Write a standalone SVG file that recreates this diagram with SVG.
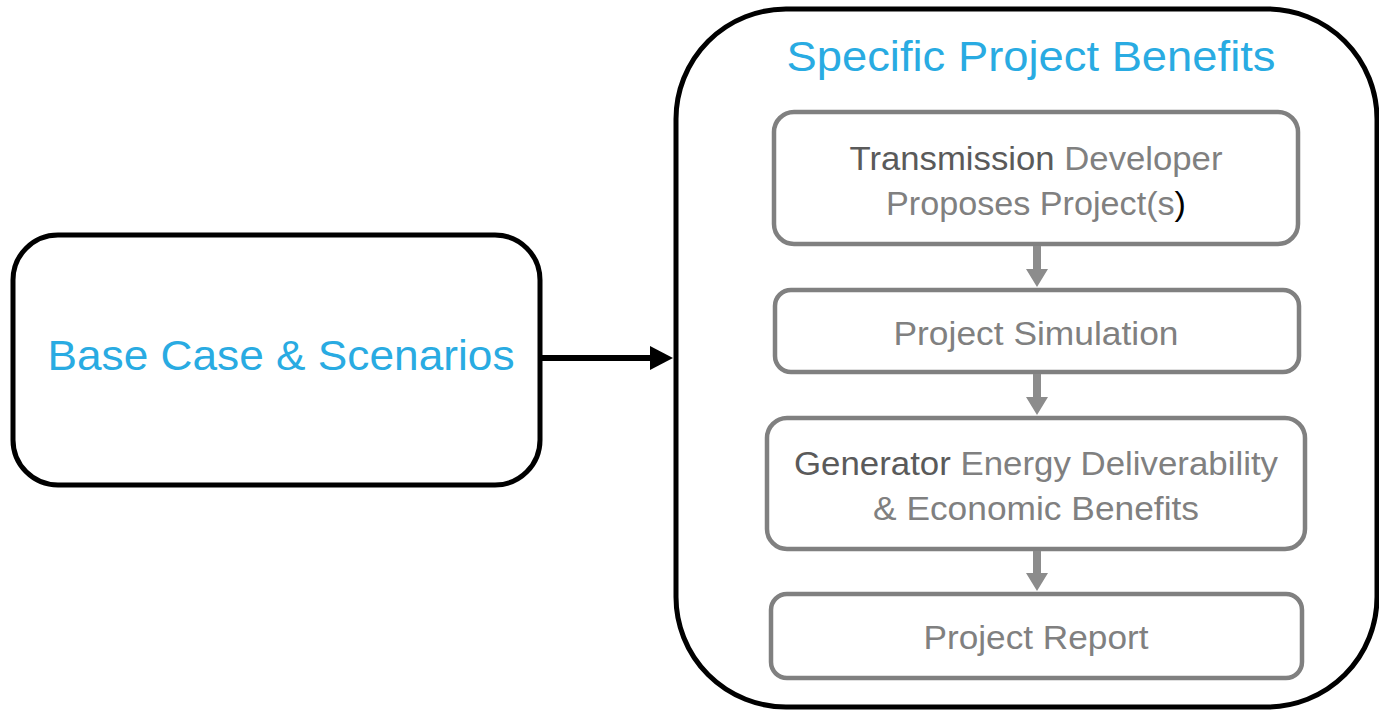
<svg xmlns="http://www.w3.org/2000/svg" width="1379" height="711" viewBox="0 0 1379 711">
<style>
.outer{fill:#fff;stroke:#000;stroke-width:5}
.inner{fill:#fff;stroke:#808080;stroke-width:4.5}
.blue{fill:#29abe2;font-family:"Liberation Sans",Arial,sans-serif}
.gray{fill:#808080;font-family:"Liberation Sans",Arial,sans-serif;font-size:33px}
.dark{fill:#5a5a5a}
</style>
<rect width="1379" height="711" fill="#fff"/>
<g id="base">
<rect class="outer" x="13" y="235" width="527" height="250" rx="45"/>
<text class="blue" x="281" y="370" font-size="43" text-anchor="middle" textLength="467" lengthAdjust="spacingAndGlyphs">Base Case &amp; Scenarios</text>
</g>
<g id="benefits">
<rect class="outer" x="676" y="9" width="701" height="698" rx="110"/>
<text class="blue" x="1031" y="71" font-size="43" text-anchor="middle" textLength="489" lengthAdjust="spacingAndGlyphs">Specific Project Benefits</text>
</g>
<g id="proposes">
<rect class="inner" x="774" y="112" width="524" height="132" rx="20"/>
<text class="gray" x="1036" y="170" text-anchor="middle" textLength="373" lengthAdjust="spacingAndGlyphs"><tspan class="dark">Transmission</tspan> Developer</text>
<text class="gray" x="1036" y="215" text-anchor="middle" textLength="300" lengthAdjust="spacingAndGlyphs">Proposes Project(s<tspan fill="#000">)</tspan></text>
</g>
<g id="simulation">
<rect class="inner" x="775" y="290" width="524" height="82" rx="16"/>
<text class="gray" x="1036" y="345" text-anchor="middle" textLength="285" lengthAdjust="spacingAndGlyphs">Project Simulation</text>
</g>
<g id="generator">
<rect class="inner" x="767" y="418" width="538" height="131" rx="20"/>
<text class="gray" x="1036" y="475" text-anchor="middle" textLength="484" lengthAdjust="spacingAndGlyphs"><tspan class="dark">Generator</tspan> Energy Deliverability</text>
<text class="gray" x="1036" y="520" text-anchor="middle" textLength="326" lengthAdjust="spacingAndGlyphs">&amp; Economic Benefits</text>
</g>
<g id="report">
<rect class="inner" x="771" y="594" width="531" height="84" rx="16"/>
<text class="gray" x="1036" y="649" text-anchor="middle" textLength="225" lengthAdjust="spacingAndGlyphs">Project Report</text>
</g>
<g id="connectors">
<line x1="541" y1="358" x2="652" y2="358" stroke="#000" stroke-width="6"/>
<path d="M650,346 L673,358 L650,370 Z" fill="#000"/>
<g fill="#8c8c8c">
<path d="M1033,246 H1041 V269 H1048 L1037,287 L1026,269 H1033 Z"/>
<path d="M1033,374 H1041 V397 H1048 L1037,415 L1026,397 H1033 Z"/>
<path d="M1033,551 H1041 V573 H1048 L1037,591 L1026,573 H1033 Z"/>
</g>
</g>
</svg>
